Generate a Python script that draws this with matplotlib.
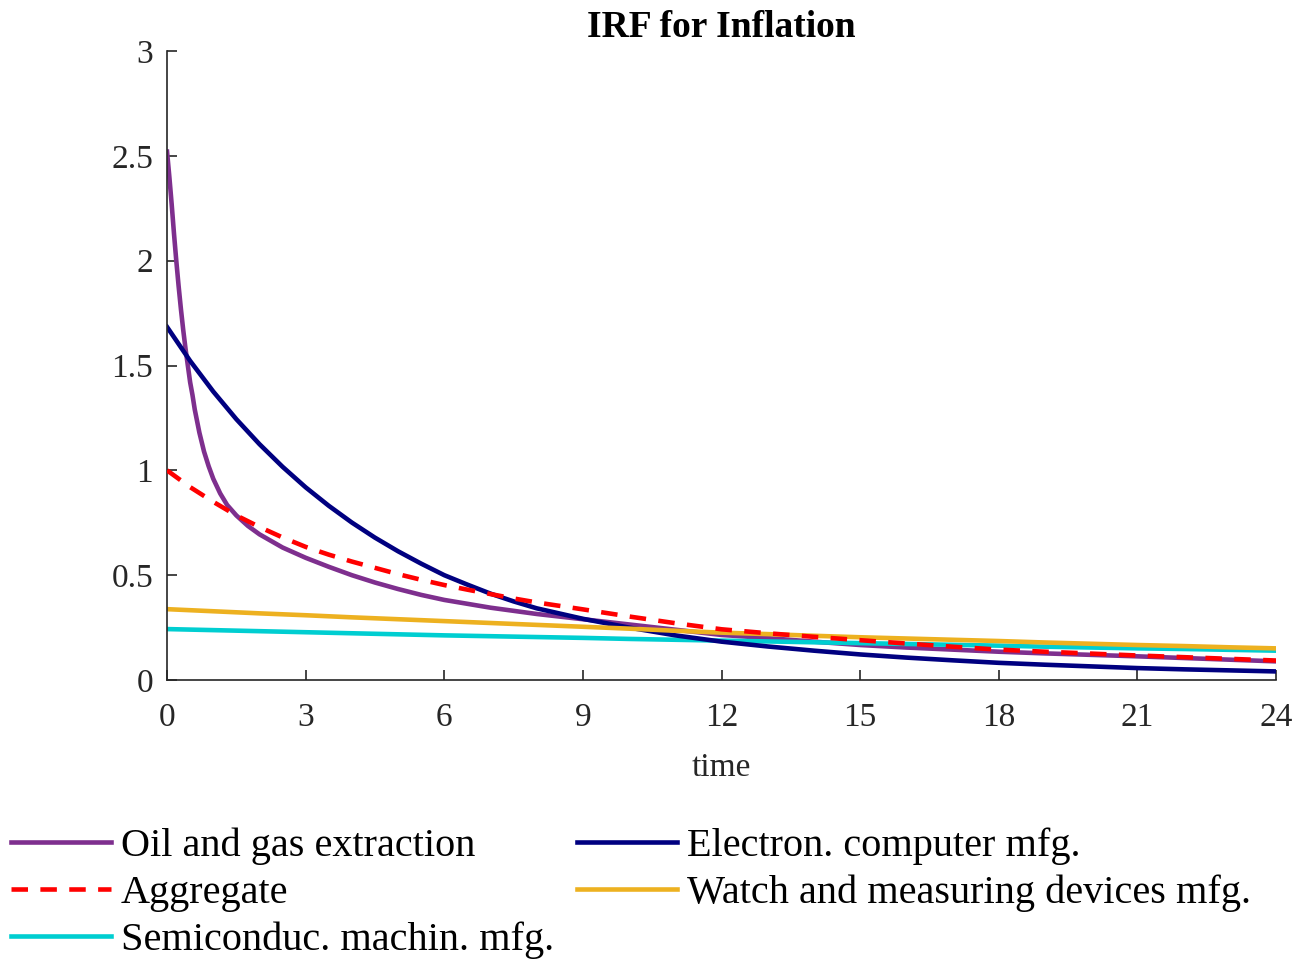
import numpy as np
import matplotlib
matplotlib.use("Agg")
import matplotlib.pyplot as plt

plt.rcParams['font.family'] = ['Liberation Serif', 'DejaVu Serif']

# time grids (months)
t_oil = [0, 0.05, 0.1, 0.15, 0.2, 0.25, 0.3, 0.35, 0.4, 0.45, 0.5, 0.55, 0.6, 0.7, 0.8,
         0.9, 1, 1.15, 1.3, 1.5, 1.75, 2, 2.5, 3, 3.5, 4, 4.5, 5, 5.5, 6, 7, 8, 9, 10,
         11, 12, 13, 14, 15, 16, 17, 18, 19, 20, 21, 22, 23, 24]
t_fast = [0, 0.5, 1, 1.5, 2, 2.5, 3, 3.5, 4, 4.5, 5, 5.5, 6, 6.5, 7, 7.5, 8, 9, 10, 11, 12,
          13, 14, 15, 16, 17, 18, 19, 20, 21, 22, 23, 24]
t_slow = list(range(25))

# IRF values
oil = [2.52, 2.40, 2.27, 2.13, 2.0, 1.88, 1.77, 1.67, 1.58, 1.50, 1.42, 1.36, 1.29, 1.18,
       1.09, 1.02, 0.96, 0.89, 0.835, 0.785, 0.735, 0.695, 0.632, 0.583, 0.54, 0.50, 0.465,
       0.434, 0.406, 0.382, 0.345, 0.315, 0.29, 0.265, 0.24, 0.215, 0.2, 0.183, 0.167,
       0.155, 0.145, 0.135, 0.127, 0.12, 0.113, 0.105, 0.097, 0.089]
computer = [1.684, 1.522, 1.376, 1.244, 1.125, 1.017, 0.919, 0.831, 0.751, 0.679, 0.614,
            0.555, 0.50, 0.455, 0.412, 0.375, 0.342, 0.292, 0.25, 0.213, 0.183, 0.16, 0.14,
            0.122, 0.107, 0.094, 0.082, 0.073, 0.065, 0.057, 0.051, 0.046, 0.041]
aggregate = [1.0, 0.92, 0.85, 0.785, 0.73, 0.68, 0.635, 0.598, 0.565, 0.535, 0.505, 0.478,
             0.453, 0.431, 0.41, 0.389, 0.37, 0.337, 0.303, 0.271, 0.242, 0.223, 0.206,
             0.19, 0.174, 0.159, 0.145, 0.135, 0.126, 0.117, 0.109, 0.101, 0.093]
watch = [0.338, 0.328, 0.318, 0.309, 0.299, 0.29, 0.281, 0.272, 0.263, 0.254, 0.245, 0.235,
         0.226, 0.219, 0.211, 0.204, 0.198, 0.192, 0.186, 0.179, 0.173, 0.167, 0.162,
         0.156, 0.151]
semicond = [0.243, 0.238, 0.233, 0.228, 0.223, 0.218, 0.213, 0.209, 0.205, 0.201, 0.196,
            0.192, 0.188, 0.184, 0.18, 0.176, 0.172, 0.168, 0.164, 0.159, 0.155, 0.151,
            0.148, 0.144, 0.14]

xticks = list(range(0, 25, 3))
yticks = [0, 0.5, 1, 1.5, 2, 2.5, 3]
ytick_labels = ['0', '0.5', '1', '1.5', '2', '2.5', '3']

fig = plt.figure(figsize=(13.06, 9.59), dpi=100)
ax = fig.add_axes([0.1279, 0.2909, 0.8492, 0.6559])

lw = 3.3
l1, = ax.plot(t_oil, oil, color='#7E2F8E', lw=lw, label='Oil and gas extraction')
l3, = ax.plot(t_fast, aggregate, color='#FF0000', lw=lw, ls=(0, (3.6, 2.7)), label='Aggregate')
l5, = ax.plot(t_slow, semicond, color='#00CED1', lw=lw, label='Semiconduc. machin. mfg.')
l2, = ax.plot(t_fast, computer, color='#000080', lw=lw, label='Electron. computer mfg.')
l4, = ax.plot(t_slow, watch, color='#EDB120', lw=lw, label='Watch and measuring devices mfg.')
# aggregate drawn on top like the original
l3.set_zorder(5)

ax.set_xlim(0, 24)
ax.set_ylim(0, 3)
ax.set_xticks(xticks)
ax.set_yticks(yticks)
ax.set_yticklabels(ytick_labels)
for s in ['top', 'right']:
    ax.spines[s].set_visible(False)
for s in ['left', 'bottom']:
    ax.spines[s].set_color('#262626')
    ax.spines[s].set_linewidth(1.2)
ax.tick_params(direction='in', length=7, width=1.2, color='#262626', labelsize=24,
               labelcolor='#262626')
ax.tick_params(axis='y', pad=10)
ax.tick_params(axis='x', pad=16)

ax.set_xlabel('time', fontsize=24, color='#262626', labelpad=14)
ax.set_title('IRF for Inflation', fontsize=27, fontweight='bold', pad=10)

fig.legend(handles=[l1, l3, l5, l2, l4], ncol=2, loc='upper left',
           bbox_to_anchor=(0.0023, 0.146), frameon=False, fontsize=29,
           handlelength=2.48, handletextpad=0.25, columnspacing=0.57,
           labelspacing=0.25, borderaxespad=0, borderpad=0.2)

fig.savefig('out.png', dpi=100)
